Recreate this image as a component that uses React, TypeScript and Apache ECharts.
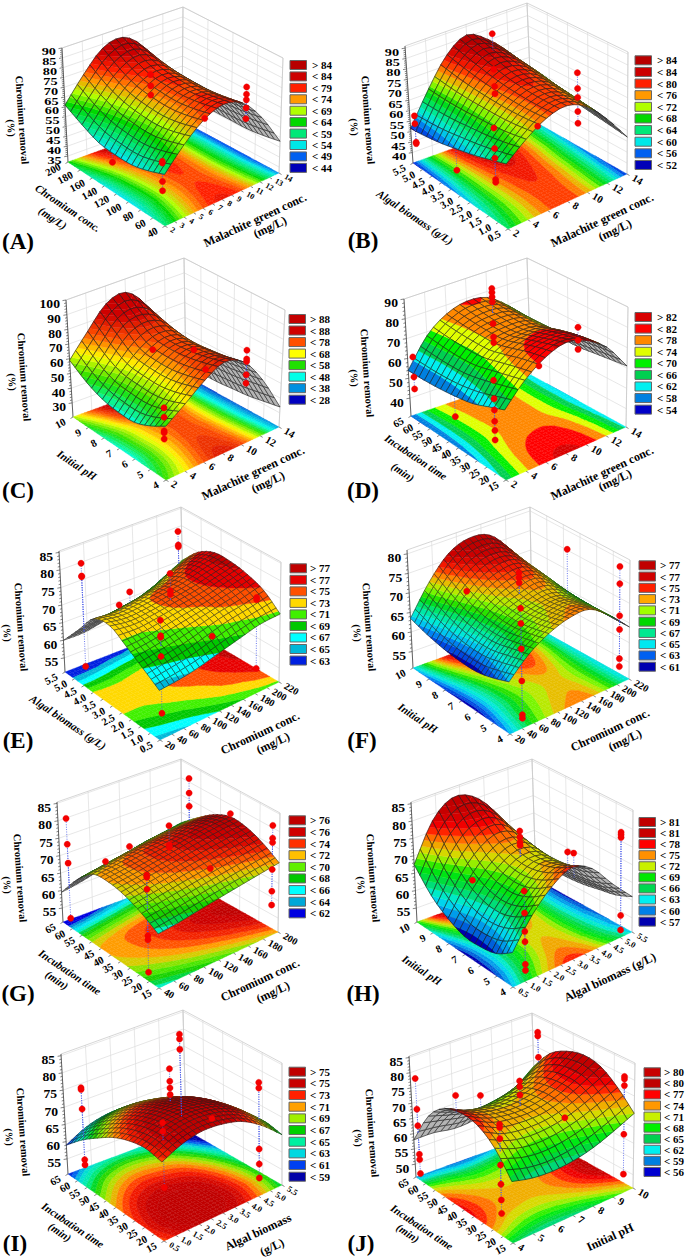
import React, { useEffect, useRef } from "react";
import * as echarts from "echarts";

// ---------- surface values: rows = left-axis steps (front to back), columns = right-axis steps (front to back) ----------
const GRID_A = [
  [56, 66, 74, 78, 75, 64, 48],
  [53, 63.5, 72, 76.5, 73.5, 62.5, 46.5],
  [51, 62, 71, 75.5, 72.5, 61.5, 45.5],
  [51, 62.5, 71.5, 76, 72.5, 61, 45.5],
  [52, 64, 73, 77, 73, 61, 45.5],
  [56, 67.5, 77, 80.5, 74.5, 60.5, 45.5],
  [61, 73, 83, 85, 77, 60, 46],
];
const GRID_B = [
  [63, 70, 75.5, 77.5, 73.5, 64, 52],
  [60.5, 68.5, 75, 77.5, 74, 65, 53],
  [58, 67.5, 75, 78, 75, 66, 54],
  [56, 67, 75.5, 79, 76, 67, 55],
  [54, 66.5, 76.5, 81, 77.5, 68.5, 56],
  [52.5, 66.5, 78, 83.5, 79, 69.5, 57],
  [51.5, 67, 80, 86, 80.5, 71, 58],
];
const GRID_C = [
  [54, 63, 73, 80, 75, 58, 34],
  [48, 59, 70, 77, 72.5, 56, 32],
  [44, 57, 68, 75, 71, 54, 30],
  [44, 57.5, 68, 74, 70, 53, 29],
  [46, 59, 70, 75.5, 71, 52.5, 28],
  [51, 65, 79, 82, 74, 52.5, 28],
  [59, 74, 88, 91, 78, 52, 29],
];
const GRID_D = [
  [63, 73, 80, 83.5, 81, 74, 61],
  [60, 71, 78.5, 81, 80, 73, 60],
  [57, 69, 76, 78.5, 78, 71.5, 59],
  [55.5, 67, 74, 76, 75.5, 69.5, 58],
  [54.5, 66.5, 74, 76, 75.5, 69, 58],
  [54, 67, 74.5, 77, 76, 69, 58],
  [54, 68, 75.5, 78.5, 77, 69.5, 59],
];
const GRID_E = [
  [64, 64.5, 65.5, 67, 68.5, 70, 70.5],
  [67, 68, 69, 70.5, 72, 73, 74.5],
  [70, 70.5, 71.5, 72.5, 73.5, 75, 76.5],
  [72.8, 72, 72.5, 73.5, 74.5, 76, 77.5],
  [72, 71.5, 72, 73, 74, 76, 77.5],
  [66, 66.5, 67.5, 68.5, 70.5, 73, 75],
  [60, 60, 61, 62, 64, 67, 70],
];
const GRID_F = [
  [63, 67.5, 70.5, 72.3, 72.5, 69, 64],
  [61.5, 66.5, 69.5, 71.3, 71.8, 68.8, 64],
  [60.5, 65.5, 69, 70.8, 71.3, 68.8, 64],
  [60.5, 65.5, 69.5, 71.5, 72.5, 69.3, 64],
  [61, 66.5, 71, 73.5, 74, 70.3, 64],
  [62, 68.5, 73.5, 76, 75.5, 71, 64],
  [63.5, 71, 76.5, 78.5, 77.5, 72, 64.5],
];
const GRID_G = [
  [65.3, 66, 67, 68, 69, 70, 71],
  [68, 69, 70, 71, 72, 73, 74],
  [70, 71, 72, 73, 74, 75, 76],
  [71, 71.8, 72.8, 73.8, 75, 76, 76.5],
  [70.5, 71.3, 72.3, 73, 73.5, 74.3, 74.5],
  [66, 67, 68, 69, 70, 70.5, 71],
  [59.5, 60.5, 62, 63.5, 65, 66, 67],
];
const GRID_H = [
  [60, 67.5, 73, 76, 73.5, 67, 61],
  [57, 64.5, 70, 73.5, 71.5, 65, 59],
  [56, 63, 68.5, 72, 70.5, 64, 58],
  [56, 63.5, 69, 72, 70.5, 63.5, 57],
  [58, 66, 71.5, 74, 71.5, 63.5, 56.5],
  [61.5, 71, 76.5, 77.5, 73, 64, 56.5],
  [67.5, 78, 82.5, 81, 75, 65, 57],
];
const GRID_I = [
  [71.5, 74, 75.3, 75, 73.5, 70, 65],
  [72.5, 75, 76.2, 76, 74.5, 71, 66],
  [71.8, 74.5, 75.7, 75.5, 74, 70.5, 65.5],
  [70, 72.8, 74, 73.8, 72.5, 69, 64],
  [67, 70, 71.5, 71.2, 70, 66.5, 61.5],
  [63.5, 66.5, 68, 68, 66.5, 63, 58],
  [59, 62, 63.5, 63.5, 62, 58.5, 53.5],
];
const GRID_J = [
  [64, 62.5, 62, 62.5, 64, 66.5, 69.5],
  [71, 68.5, 67.5, 68, 69.5, 72, 75],
  [75, 72, 71, 71, 72.5, 75.5, 79],
  [76, 73, 71.5, 71.5, 73, 76, 80],
  [74.5, 71.5, 70, 70, 71.5, 74.5, 78.5],
  [69, 67, 65.5, 66, 67.5, 70.5, 75],
  [58, 58, 57, 57.5, 59.5, 63, 68],
];

// ---------- measured points: [right-axis fraction, left-axis fraction, removal %] ----------
const POINTS_A = [[.15,.2,52.3],[.15,.2,53.2],[.15,.2,43.5],[.15,.2,39.1],[.52,.75,72.5],[.52,.75,66.8],[.52,.75,62.2],[.93,.27,70],[.93,.27,66.3],[.93,.27,63.5],[.93,.27,59.4],[.93,.27,54],[.6,.3,61],[.237,.82,32.5]];
const POINTS_B = [[0,.95,59],[0,.95,55.3],[0,.95,46.4],[0,.95,45.8],[.55,.8,90.4],[.55,.8,73.7],[.55,.8,65.8],[.55,.8,62.6],[.15,.31,67.6],[.15,.31,58.4],[.15,.31,54],[.15,.31,44.5],[.15,.31,43.3],[.173,.754,35.5],[.5,.3,61],[.8,.26,79.8],[.8,.26,72.6],[.8,.26,68.5],[.8,.26,62],[.8,.26,56.6]];
const POINTS_C = [[.15,.2,53.7],[.15,.2,47.7],[.15,.2,38.8],[.15,.2,37.7],[.15,.2,33.7],[.43,.65,67],[.7,.55,62.7],[.93,.28,65],[.93,.28,59],[.93,.28,57.4],[.93,.28,48.4],[.93,.28,42.7],[.55,.25,64.7]];
const POINTS_D = [[-.01,.93,63],[-.01,.93,53],[-.01,.93,47],[.55,.8,89],[.55,.8,87],[.55,.8,84.8],[.55,.8,82.3],[.55,.8,71.5],[.55,.8,64.8],[.55,.8,62],[.15,.3,65.6],[.15,.3,56.9],[.15,.3,51.6],[.15,.3,46.2],[.15,.3,41.8],[.15,.3,37.3],[.228,.821,31.5],[.8,.25,78.3],[.8,.25,72],[.8,.25,67.5],[.52,.3,64.4]];
const POINTS_E = [[.15,.97,80.5],[.15,.97,76.9],[.15,.97,76.7],[.15,.97,51.2],[.97,1,78.7],[.97,1,74.8],[.97,1,74.3],[1,.24,71.4],[1,.24,70.8],[1,.24,51],[.47,1,64],[.56,1,66.6],[.5,.5,80.8],[.5,.5,76],[.5,.5,75],[.2,.23,76.2],[.2,.23,72],[.2,.23,71.6],[.2,.23,66.4],[.2,.23,51],[.68,.3,64]];
const POINTS_F = [[1,.1,78],[1,.1,73.6],[1,.1,65.5],[1,.1,62],[1,.1,54.6],[1,.1,52.6],[1,.63,75.2],[.5,.5,76.7],[.5,.5,75.5],[.5,.5,74.2],[.13,.03,78.4],[.13,.03,74.8],[.13,.03,68.8],[.13,.03,61.2],[.13,.03,53.2],[.13,.03,52.4],[.35,.85,68.8]];
const POINTS_G = [[.05,.98,80.4],[.05,.98,73],[.05,.98,67.6],[.05,.98,51.8],[1,.92,81],[1,.92,76.8],[1,.92,73],[.37,1,63.7],[.57,1,65.5],[.5,.5,80.4],[.5,.5,75],[.5,.5,74.3],[1,.5,77.4],[1,.07,80.7],[1,.07,77],[1,.07,75.8],[1,.07,68],[1,.07,61.7],[1,.07,57.7],[.05,.17,77.6],[.05,.17,77],[.05,.17,73.8],[.05,.17,61.3],[.05,.17,60.2],[.05,.17,51.5],[.65,.27,70]];
const POINTS_H = [[.92,.02,80],[.92,.02,79.3],[.92,.02,78.5],[.92,.02,56.6],[.92,.02,52.5],[.48,.5,78.9],[.48,.5,77.2],[.48,.5,75.8],[.48,.5,74.9],[.2,.65,66.4],[.13,.03,74],[.13,.03,68.2],[.13,.03,63.3],[.13,.03,60.6],[.13,.03,54.6],[.13,.03,53],[.87,.5,68],[.92,.5,67]];
const POINTS_I = [[.03,.85,77.8],[.03,.85,77.3],[.03,.85,71.7],[.03,.85,57.2],[.03,.85,55.7],[.95,.98,79.4],[.95,.98,78],[.95,.98,75],[.48,.5,83],[.48,.5,79.5],[.48,.5,77.6],[.48,.5,75.7],[.58,.2,72.4],[.11,.12,78.7],[.11,.12,76.4],[.11,.12,61.2],[.93,.15,78.6],[.93,.15,77],[.93,.15,59.6],[.93,.15,55.3],[.93,.15,51.3]];
const POINTS_J = [[0,.95,79],[0,.95,69],[0,.95,63.6],[0,.95,54.3],[0,.95,52.6],[0,.95,48],[.2,.8,73.4],[.4,.8,70.5],[1,.95,80],[1,.95,78.8],[1,.95,71.8],[.48,.5,79.2],[.48,.5,77.4],[.48,.5,74.8],[.03,.15,78.1],[.03,.15,77.1],[.03,.15,73.7],[.03,.15,65.8],[.03,.15,60],[.03,.15,55.3],[.03,.15,51.2],[.72,.35,66.6],[1,.1,79.6],[1,.1,78.8],[1,.1,76.7],[1,.1,61.2],[1,.1,48.5]];

// ---------- legends ----------
const LEGEND_A = [84, 84, 79, 74, 69, 64, 59, 54, 49, 44];
const LEGEND_B = [84, 84, 80, 76, 72, 68, 64, 60, 56, 52];
const LEGEND_C = [88, 88, 78, 68, 58, 48, 38, 28];
const LEGEND_D = [82, 82, 78, 74, 70, 66, 62, 58, 54];
const LEGEND_E = [77, 77, 75, 73, 71, 69, 67, 65, 63];
const LEGEND_F = [77, 77, 75, 73, 71, 69, 67, 65, 63, 61];
const LEGEND_G = [76, 76, 74, 72, 70, 68, 66, 64, 62];
const LEGEND_H = [81, 81, 78, 75, 72, 69, 66, 63, 60, 57];
const LEGEND_I = [75, 75, 73, 71, 69, 67, 65, 63, 61, 59];
const LEGEND_J = [80, 80, 77, 74, 71, 68, 65, 62, 59, 56];

// ---------- tick labels ----------
const seq = (a: number, b: number, s: number, d = 0) => { const r: string[] = []; for (let k = 0; a + k * s <= b + 1e-9; k++) r.push((a + k * s).toFixed(d)); return r; };
const TICKS_MG1 = seq(2, 14, 1);
const TICKS_MG2 = seq(2, 14, 2);
const TICKS_CR40 = seq(40, 200, 20);
const TICKS_CR20 = seq(20, 220, 20);
const TICKS_ALGAL = seq(.5, 5.5, .5, 1);
const TICKS_PH = seq(4, 10, 1);
const TICKS_TIME = seq(15, 65, 5);

const P = Math.PI / 180;
const T_MG = "Malachite green conc.", T_CR = "Chromium conc.", T_AL = "Algal biomass (g/L)", T_PH = "Initial pH", T_TI = "Incubation time";

const PAL10 = ["#b80000","#cc0000","#ff2000","#ff9900","#b0ff00","#00d800","#00e878","#00e8e8","#0060f0","#0000b8"];

const PANELS: any[] = [
  { name: "(A)", grid: GRID_A, pts: POINTS_A, legend: LEGEND_A, pal: PAL10, sub: 3, mesh: 3, z: [32, 90], zt: seq(35, 90, 5), lt: TICKS_CR40, rt: TICKS_MG1, rtFont: 8,
    F: [165,226], R: [279,173], L: [68,162], TL: [62,48], TB: [183,7], TR: [283,58],
    lg: [290,65,11.43,312], tag: [18,241], zT: [22,120,11,128], lT: [[T_CR,68,208],["(mg/L)",53,218]], rT: [[T_MG,255,220],["(mg/L)",270,227]] },
  { name: "(B)", grid: GRID_B, pts: POINTS_B, legend: LEGEND_B, pal: PAL10, sub: 2, mesh: 3, z: [35, 91], zt: seq(40, 90, 5), lt: TICKS_ALGAL, rt: TICKS_MG2, rtFont: 10.5,
    F: [508,229], R: [627,174], L: [413,163], TL: [405,46], TB: [527,3], TR: [628,52],
    lg: [635,60.3,11.63,657], tag: [363,240], zT: [368,120,354,127], lT: [[T_AL,415,217]], rT: [[T_MG,602,220],["(mg/L)",615,230]] },
  { name: "(C)", grid: GRID_C, pts: POINTS_C, legend: LEGEND_C, pal: ["#c40000","#d00000","#ff5000","#ffff00","#20e000","#00ffe8","#0090e0","#0000c0"], sub: 4, mesh: 3, z: [20.4, 100], zt: seq(30, 100, 10), lt: TICKS_PH, rt: TICKS_MG2, rtFont: 10.5,
    F: [166,480], R: [279,427], L: [73,417], TL: [66,300], TB: [184,258], TR: [285,310],
    lg: [289,319,11.53,310], tag: [18,490], zT: [24,377,12,382], lT: [[T_PH,77,465]], rT: [[T_MG,253,473],["(mg/L)",268,482]] },
  { name: "(D)", grid: GRID_D, pts: POINTS_D, legend: LEGEND_D, pal: ["#d80000","#ff0000","#ff8800","#e0ff00","#00f000","#00d050","#00f0f0","#0080e0","#0000c8"], sub: 1, mesh: 3, z: [31, 90], zt: seq(40, 90, 10), lt: TICKS_TIME, rt: TICKS_MG2, rtFont: 10.5,
    F: [506,480], R: [626,427], L: [411,416], TL: [404,299], TB: [527,258], TR: [628,307],
    lg: [635,317,11.58,657], tag: [363,490], zT: [367,373,354,378], lT: [[T_TI,416,457],["(min)",403,472]], rT: [[T_MG,602,473],["(mg/L)",615,480]] },
  { name: "(E)", grid: GRID_E, pts: POINTS_E, legend: LEGEND_E, pal: ["#c00000","#e80000","#ff5000","#ffd800","#40f000","#00c800","#00ffff","#00b8d8","#0020e0"], sub: 1, mesh: 4, z: [51, 85.4], zt: seq(55, 85, 5), lt: TICKS_ALGAL, rt: TICKS_CR20, rtFont: 10,
    F: [160,740], R: [279,682], L: [65,672], TL: [59,551], TB: [181,507], TR: [281,562],
    lg: [290,568.3,11.53,310], tag: [18,740], zT: [21,627,7,633], lT: [[T_AL,68,722]], rT: [[T_CR,260,733],["(mg/L)",273,743]] },
  { name: "(F)", grid: GRID_F, pts: POINTS_F, legend: LEGEND_F, pal: ["#c00000","#d00000","#ff2000","#ffa800","#a0ff00","#00d800","#00e890","#00e8f0","#0060f0","#0000b0"], sub: 2, mesh: 4, z: [50.8, 81], zt: seq(55, 80, 5), lt: TICKS_PH, rt: TICKS_CR20, rtFont: 10,
    F: [510,734], R: [629,679], L: [413,668], TL: [407,550], TB: [530,507], TR: [630,560],
    lg: [639,565.3,11.27,660], tag: [362,740], zT: [369,627,357,633], lT: [[T_PH,418,718]], rT: [[T_CR,610,730],["(mg/L)",625,740]] },
  { name: "(G)", grid: GRID_G, pts: POINTS_G, legend: LEGEND_G, pal: ["#c00000","#d00000","#ff3000","#ffc000","#60f000","#00c800","#00ffff","#00a8d8","#0000e0"], sub: 2, mesh: 4, z: [51, 85.4], zt: seq(55, 85, 5), lt: TICKS_TIME, rt: TICKS_CR40, rtFont: 10,
    F: [159,988], R: [278,932], L: [63,922], TL: [57,802], TB: [181,759], TR: [280,813],
    lg: [289,820.3,11.63,310], tag: [18,993], zT: [20,878,7,885], lT: [[T_TI,70,972],["(min)",57,980]], rT: [[T_CR,260,980],["(mg/L)",273,992]] },
  { name: "(H)", grid: GRID_H, pts: POINTS_H, legend: LEGEND_H, pal: ["#c00000","#c80000","#ff0000","#ff9000","#c8f000","#00e800","#00d850","#00f0f0","#0080e8","#0000b0"], sub: 2, mesh: 3, z: [51, 85.5], zt: seq(55, 85, 5), lt: TICKS_PH, rt: TICKS_ALGAL, rtFont: 8.5,
    F: [513,987], R: [632,932], L: [417,922], TL: [411,802], TB: [532,759], TR: [633,810],
    lg: [639,822,11.07,660], tag: [363,993], zT: [373,878,361,885], lT: [[T_PH,422,970]], rT: [[T_AL,610,977]] },
  { name: "(I)", grid: GRID_I, pts: POINTS_I, legend: LEGEND_I, pal: ["#c00000","#c80000","#ff2000","#ffa000","#a0f000","#00d000","#00f0a0","#00d8e0","#0040f0","#0000a8"], sub: 2, mesh: 4, z: [50.6, 85.5], zt: seq(55, 85, 5), lt: TICKS_TIME, rt: TICKS_ALGAL, rtFont: 8.5,
    F: [164,1241], R: [282,1185], L: [68,1174], TL: [61,1054], TB: [183,1010], TR: [282,1063],
    lg: [289,1071.7,11.67,310], tag: [15,1243], zT: [23,1132,9,1137], lT: [[T_TI,73,1225],["(min)",60,1232]], rT: [["Algal biomass",258,1232],["(g/L)",272,1247]] },
  { name: "(J)", grid: GRID_J, pts: POINTS_J, legend: LEGEND_J, pal: ["#c80000","#c00000","#ff0000","#ff9800","#c8f000","#00f000","#00d050","#00f0f0","#0080e0","#0000d0"], sub: 2, mesh: 3, z: [45.8, 85.5], zt: seq(50, 85, 5), lt: TICKS_TIME, rt: TICKS_PH, rtFont: 10.5,
    F: [513,1243], R: [633,1188], L: [416,1177], TL: [409,1056], TB: [532,1013], TR: [635,1063],
    lg: [644,1072.3,11.07,664], tag: [361,1243], zT: [372,1133,358,1138], lT: [[T_TI,422,1227],["(min)",408,1233]], rT: [[T_PH,610,1237]] },
];

const SERIF = "Liberation Serif";
const mix = (a: string, b: string, t: number) => {
  const h = (s: string, k: number) => parseInt(s.slice(k, k + 2), 16);
  const c = [1, 3, 5].map((k) => Math.round(h(a, k) * (1 - t) + h(b, k) * t));
  return `rgb(${c[0]},${c[1]},${c[2]})`;
};

function buildBands(p: any) {
  const bands: { lo: number; hi: number; c: string }[] = [];
  const { legend, pal, sub } = p;
  const n = legend.length;
  bands.push({ lo: -1e9, hi: legend[n - 1], c: pal[n - 1] });
  for (let k = n - 2; k >= 1; k--) {
    const lo = legend[k + 1], hi = legend[k];
    const here = pal[k];
    for (let m = 0; m < sub; m++) {
      const f = (m + 0.5) / sub - 0.5;
      const c = sub === 1 ? here : f > 0 ? mix(here, pal[k - 1], f) : mix(here, pal[k + 1], -f);
      bands.push({ lo: lo + ((hi - lo) * m) / sub, hi: lo + ((hi - lo) * (m + 1)) / sub, c });
    }
  }
  bands.push({ lo: legend[0], hi: 1e9, c: pal[0] });
  return bands;
}

const cr = (a: number, b: number, c: number, d: number, t: number) =>
  0.5 * (2 * b + (c - a) * t + (2 * a - 5 * b + 4 * c - d) * t * t + (3 * b - a - 3 * c + d) * t * t * t);
const at = (g: number[][], j: number, i: number): number => {
  if (j < 0) return 2 * at(g, 0, i) - at(g, 1, i);
  if (j > 6) return 2 * at(g, 6, i) - at(g, 5, i);
  if (i < 0) return 2 * g[j][0] - g[j][1];
  if (i > 6) return 2 * g[j][6] - g[j][5];
  return g[j][i];
};
// smooth drawing between the values read at the seven steps of each axis
function surf(g: number[][], u: number, v: number) {
  const x = Math.max(0, Math.min(1, u)) * 6, y = Math.max(0, Math.min(1, v)) * 6;
  const i = Math.min(5, Math.floor(x)), j = Math.min(5, Math.floor(y));
  const tx = x - i, ty = y - j;
  const r = [-1, 0, 1, 2].map((d) => cr(at(g, j + d, i - 1), at(g, j + d, i), at(g, j + d, i + 1), at(g, j + d, i + 2), tx));
  return cr(r[0], r[1], r[2], r[3], ty);
}

function projector(p: any) {
  const { F, R, L, TL, TB, TR } = p;
  const B = [L[0] + R[0] - F[0], L[1] + R[1] - F[1] + 12];
  const h = (((L[1] - TL[1]) + (R[1] - TR[1])) / 2) * 1.09;
  const TF = [F[0] + ((TL[0] - L[0]) + (TR[0] - R[0])) / 2, F[1] - h];
  const bl = (a: number[], b: number[], c: number[], d: number[], u: number, v: number, k: number) =>
    a[k] * (1 - u) * (1 - v) + b[k] * u * (1 - v) + c[k] * (1 - u) * v + d[k] * u * v;
  return (u: number, v: number, w: number) => {
    const fx = bl(F, R, L, B, u, v, 0), fy = bl(F, R, L, B, u, v, 1);
    const tx = bl(TF, TR, TL, TB, u, v, 0), ty = bl(TF, TR, TL, TB, u, v, 1);
    return [fx + (tx - fx) * w, fy + (ty - fy) * w];
  };
}

type V = [number, number, number];
function clip(poly: V[], lim: number, above: boolean): V[] {
  const out: V[] = [];
  for (let k = 0; k < poly.length; k++) {
    const a = poly[k], b = poly[(k + 1) % poly.length];
    const ai = above ? a[2] >= lim : a[2] <= lim;
    const bi = above ? b[2] >= lim : b[2] <= lim;
    if (ai) out.push(a);
    if (ai !== bi) {
      const t = (lim - a[2]) / (b[2] - a[2]);
      out.push([a[0] + (b[0] - a[0]) * t, a[1] + (b[1] - a[1]) * t, lim]);
    }
  }
  return out;
}
function bandPolys(q: V[], bands: any[], out: any[]) {
  const vals = q.map((a) => a[2]);
  const mn = Math.min(...vals), mx = Math.max(...vals);
  for (const b of bands) {
    if (b.hi < mn || b.lo > mx) continue;
    let c = q;
    if (mn < b.lo) c = clip(c, b.lo, true);
    if (c.length && mx > b.hi) c = clip(c, b.hi, false);
    if (c.length < 3) continue;
    out.push({ type: "polygon", silent: true, shape: { points: c.map((a) => [a[0], a[1]]) }, style: { fill: b.c, stroke: b.c, lineWidth: 0.35 } });
  }
}

function line(a: number[], b: number[], stroke: string, w = 0.7, z = 0) {
  return { type: "line", silent: true, z, shape: { x1: a[0], y1: a[1], x2: b[0], y2: b[1] }, style: { stroke, lineWidth: w } };
}
function txt(text: string, x: number, y: number, font: string, rot = 0, align = "center", scaleX = 1) {
  return { type: "text", silent: true, z: 1, x, y, rotation: rot, scaleX, style: { text, x: 0, y: 0, font, fill: "#000", align, verticalAlign: "middle", textAlign: align, textVerticalAlign: "middle" } };
}

function panelGraphics(p: any) {
  const pr = projector(p);
  const [z0, z1] = p.z;
  const W = (z: number) => (z - z0) / (z1 - z0);
  const out: any[] = [];
  const wall = "#dcdcdc", edge = "#c4c4c4";
  // walls
  for (const t of p.zt) {
    out.push(line(pr(0, 1, W(+t)), pr(1, 1, W(+t)), wall));
    out.push(line(pr(1, 1, W(+t)), pr(1, 0, W(+t)), wall));
  }
  const un = p.rt.length - 1, vn = p.lt.length - 1;
  const rs = p.rt.length > 8 ? 2 : 1, ls = p.lt.length > 8 ? 2 : 1;
  for (let k = 0; k <= un; k += rs) out.push(line(pr(k / un, 1, 0), pr(k / un, 1, 1), wall));
  for (let k = 0; k <= vn; k += ls) out.push(line(pr(1, k / vn, 0), pr(1, k / vn, 1), wall));
  out.push(line(pr(0, 1, 1), pr(1, 1, 1), edge), line(pr(1, 1, 1), pr(1, 0, 1), edge), line(pr(1, 1, 0), pr(1, 1, 1), edge), line(pr(1, 0, 0), pr(1, 0, 1), edge));
  out.push(line(pr(0, 1, 0), pr(0, 1, 1), "#555", 0.9));
  // z axis
  const step = +p.zt[1] - +p.zt[0];
  for (let k = 0; k < (p.zt.length - 1) * 5 + 1; k++) {
    const z = +p.zt[0] + (k * step) / 5;
    const a = pr(0, 1, W(z));
    out.push(line(a, [a[0] - (k % 5 === 0 ? 3.5 : 2), a[1] + 0.6], "#333", 0.6));
  }
  const tight = p.zt.length > 9;
  for (const t of p.zt) {
    const a = pr(0, 1, W(+t));
    out.push(txt(t, a[0] - 6, a[1] + 4, `bold ${tight ? 11 : 13}px ${SERIF}`, 0, "right", tight ? 1.3 : 1.05));
  }
  // floor axes
  p.lt.forEach((t: string, k: number) => {
    const a = pr(0, k / vn, 0);
    out.push(line(a, [a[0] - 2.5, a[1] + 1.5], "#333", 0.6));
    out.push(txt(t, a[0] - 8, a[1] + 4, `bold 10.5px ${SERIF}`, 28 * P, "right"));
  });
  p.rt.forEach((t: string, k: number) => {
    const a = pr(k / un, 0, 0);
    out.push(line(a, [a[0] + 2.5, a[1] + 1.5], "#333", 0.6));
    out.push(txt(t, a[0] + 6, a[1] + 3, `bold ${p.rtFont}px ${SERIF}`, -30 * P, "left"));
  });
  // titles
  const zf = `bold 10.5px ${SERIF}`, lf = `italic bold 11px ${SERIF}`, rf = `bold 12px ${SERIF}`;
  out.push(txt("Chromium removal", p.zT[0], p.zT[1], zf, -86 * P));
  out.push(txt("(%)", p.zT[2], p.zT[3], zf, -86 * P));
  for (const [s, x, y] of p.lT) out.push(txt(s, x, y, lf, -34 * P));
  for (const [s, x, y] of p.rT) out.push(txt(s, x, y, rf, 25 * P));
  out.push(txt(p.name, p.tag[0], p.tag[1], `bold 23px ${SERIF}`));
  // legend
  const [lx, ly, ls2, ltx] = p.lg;
  p.legend.forEach((v: number, k: number) => {
    const y = ly + k * ls2;
    out.push({ type: "rect", silent: true, shape: { x: lx, y: y - 4.5, width: 16.5, height: 9 }, style: { fill: p.pal[k], stroke: "#666", lineWidth: 1 } });
    out.push(txt(`${k === 0 ? ">" : "<"} ${v}`, ltx, y, `bold 11px ${SERIF}`, 0, "left"));
  });
  return out;
}

function panelSeries(p: any) {
  const pr = projector(p);
  const [z0, z1] = p.z;
  const W = (z: number) => (z - z0) / (z1 - z0);
  const bands = buildBands(p);
  const g = p.grid as number[][];
  const nodes: number[][] = [];
  for (let j = 5; j >= 0; j--) for (let i = 5; i >= 0; i--) nodes.push([i, j, g[j][i]]);
  const FLOOR = 5, MESH = p.mesh;

  const floor = {
    type: "custom", coordinateSystem: "none", z: 3, silent: true, clip: false, data: nodes,
    renderItem: (_: any, api: any) => {
      const i = api.value(0), j = api.value(1);
      const ch: any[] = [];
      for (let b = 0; b < FLOOR; b++) for (let a = 0; a < FLOOR; a++) {
        const q: V[] = [[a, b], [a + 1, b], [a + 1, b + 1], [a, b + 1]].map(([s, t]) => {
          const u = (i + s / FLOOR) / 6, v = (j + t / FLOOR) / 6;
          const xy = pr(u, v, 0);
          return [xy[0], xy[1], surf(g, u, v)] as V;
        });
        bandPolys(q, bands, ch);
      }
      return { type: "group", children: ch };
    },
  };

  // dotted spike from each measured point to the fitted surface
  const spike = (wantAbove: boolean, z: number) => ({
    type: "custom", coordinateSystem: "none", z, silent: true, clip: false, data: p.pts,
    renderItem: (_: any, api: any) => {
      const u = api.value(0), v = api.value(1), val = api.value(2);
      const s = surf(g, u, v);
      if (val > s !== wantAbove) return null;
      const a = pr(u, v, W(s)), c = pr(u, v, W(val));
      return { type: "line", silent: true, shape: { x1: a[0], y1: a[1], x2: c[0], y2: c[1] }, style: { stroke: "#4a5ae8", lineWidth: 0.8, lineDash: [1, 1.4] } };
    },
  });

  const surface = {
    type: "custom", coordinateSystem: "none", z: 5, silent: true, clip: false, data: nodes,
    renderItem: (_: any, api: any) => {
      const i = api.value(0), j = api.value(1);
      const ch: any[] = [];
      for (let b = MESH - 1; b >= 0; b--) for (let a = MESH - 1; a >= 0; a--) {
        const q: V[] = [[a, b], [a + 1, b], [a + 1, b + 1], [a, b + 1]].map(([s, t]) => {
          const u = (i + s / MESH) / 6, v = (j + t / MESH) / 6;
          const val = surf(g, u, v);
          const xy = pr(u, v, W(val));
          return [xy[0], xy[1], val] as V;
        });
        let area = 0;
        for (let k = 0; k < 4; k++) { const m = q[k], n = q[(k + 1) % 4]; area += m[0] * n[1] - n[0] * m[1]; }
        if (area > 0) {
          ch.push({ type: "polygon", silent: true, shape: { points: q.map((m) => [m[0], m[1]]) }, style: { fill: "#b4b4b4", stroke: "#b4b4b4", lineWidth: 0.3 } });
        } else bandPolys(q, bands, ch);
        ch.push({ type: "polygon", silent: true, shape: { points: q.map((m) => [m[0], m[1]]) }, style: { fill: "none", stroke: "#1a1a1a", lineWidth: MESH > 3 ? 0.5 : 0.6 } });
      }
      return { type: "group", children: ch };
    },
  };

  const points = {
    type: "custom", coordinateSystem: "none", z: 6, silent: true, clip: false, data: p.pts,
    renderItem: (_: any, api: any) => {
      const c = pr(api.value(0), api.value(1), W(api.value(2)));
      return { type: "circle", silent: true, shape: { cx: c[0], cy: c[1], r: 3.2 }, style: { fill: "#f40000", stroke: "#e80000", lineWidth: 0.3 } };
    },
  };
  return [floor, spike(false, 4), surface, spike(true, 6), points];
}

export default function App() {
  const ref = useRef<HTMLDivElement>(null);
  useEffect(() => {
    if (!ref.current) return;
    const chart = echarts.init(ref.current, undefined, { renderer: "svg" });
    chart.setOption({
      animation: false,
      backgroundColor: "#fff",
      graphic: { elements: PANELS.flatMap(panelGraphics) },
      series: PANELS.flatMap(panelSeries),
    });
    return () => chart.dispose();
  }, []);
  return <div ref={ref} style={{ position: "absolute", left: 0, top: 0, width: 685, height: 1258 }} />;
}
